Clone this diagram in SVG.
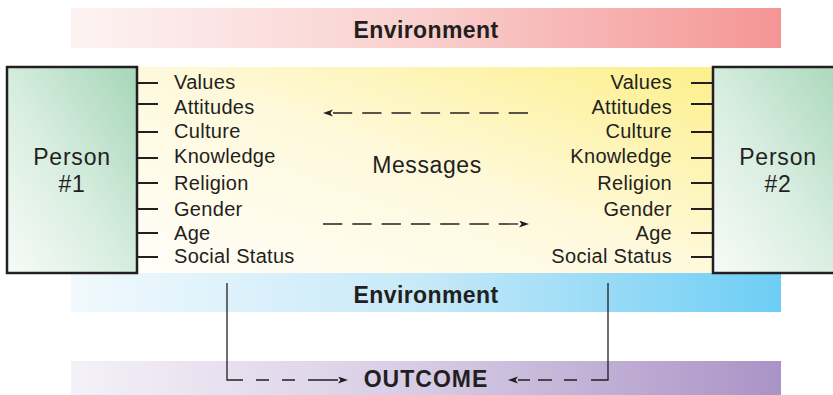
<svg xmlns="http://www.w3.org/2000/svg" width="833" height="395" viewBox="0 0 833 395">
<defs>
<linearGradient id="gRed" x1="0" y1="0" x2="1" y2="0"><stop offset="0" stop-color="#fdf3f3"/><stop offset="0.5" stop-color="#f9cfcd"/><stop offset="1" stop-color="#f49594"/></linearGradient>
<linearGradient id="gBlue" x1="0" y1="0" x2="1" y2="0"><stop offset="0" stop-color="#f1f9fd"/><stop offset="0.5" stop-color="#c6e9f8"/><stop offset="1" stop-color="#6dcdf5"/></linearGradient>
<linearGradient id="gPurple" x1="0" y1="0" x2="1" y2="0"><stop offset="0" stop-color="#f4f1f8"/><stop offset="0.5" stop-color="#d6cbe4"/><stop offset="1" stop-color="#aa93c6"/></linearGradient>
<linearGradient id="gYellow" x1="0" y1="1" x2="1" y2="0"><stop offset="0" stop-color="#fffef9"/><stop offset="0.5" stop-color="#fef9dc"/><stop offset="1" stop-color="#fdef8a"/></linearGradient>
<linearGradient id="gGreen" x1="1" y1="0" x2="0" y2="1"><stop offset="0" stop-color="#a6d6b8"/><stop offset="0.55" stop-color="#d9eee1"/><stop offset="1" stop-color="#f7fbf8"/></linearGradient>
<marker id="ah" markerUnits="userSpaceOnUse" markerWidth="12" markerHeight="8" refX="0" refY="3.5" orient="auto"><path d="M0,0 L10,3.5 L0,7 L2.5,3.5 z" fill="#231f20"/></marker>
<style>
text{font-family:"Liberation Sans",Arial,sans-serif;fill:#231f20}
.env{font-size:23px;font-weight:bold;letter-spacing:0.4px;text-anchor:middle}
.lbl{font-size:20px;letter-spacing:0.3px}
.lr{text-anchor:end}
.per{font-size:23px;letter-spacing:0.8px;text-anchor:middle}
.box{stroke:#231f20;stroke-width:2.5;fill:url(#gGreen)}
.tick{stroke:#231f20;stroke-width:2;fill:none}
.ln{stroke:#231f20;stroke-width:1.3;fill:none}
</style>
</defs>
<g id="bands">
<rect x="71" y="8" width="710" height="40" fill="url(#gRed)"/>
<rect x="137" y="67" width="576" height="206" fill="url(#gYellow)"/>
<rect x="71" y="273" width="710" height="39" fill="url(#gBlue)"/>
<rect x="71" y="361" width="710" height="34" fill="url(#gPurple)"/>
</g>
<g id="env-top"><text class="env" x="426" y="38">Environment</text></g>
<g id="env-bottom"><text class="env" x="426" y="303">Environment</text></g>
<g id="messages"><text x="427" y="173" style="font-size:23px;letter-spacing:0.6px;text-anchor:middle">Messages</text></g>
<g id="outcome"><text class="env" x="426" y="387" style="letter-spacing:1px">OUTCOME</text></g>
<g id="person1">
<rect class="box" x="7" y="67" width="130" height="206"/>
<text class="per" x="72" y="165">Person</text>
<text class="per" x="72" y="192">#1</text>
<path class="tick" d="M137,83 H158 M137,104 H158 M137,132 H158 M137,158 H158 M137,183 H158 M137,209 H158 M137,233 H158 M137,257 H158"/>
<text class="lbl" x="174" y="89">Values</text>
<text class="lbl" x="174" y="114">Attitudes</text>
<text class="lbl" x="174" y="138">Culture</text>
<text class="lbl" x="174" y="163">Knowledge</text>
<text class="lbl" x="174" y="190">Religion</text>
<text class="lbl" x="174" y="216">Gender</text>
<text class="lbl" x="174" y="240">Age</text>
<text class="lbl" x="174" y="263">Social Status</text>
</g>
<g id="person2">
<rect class="box" x="713" y="67" width="140" height="206"/>
<text class="per" x="778" y="165">Person</text>
<text class="per" x="778" y="192">#2</text>
<path class="tick" d="M691,83 H713 M691,104 H713 M691,132 H713 M691,158 H713 M691,183 H713 M691,209 H713 M691,233 H713 M691,257 H713"/>
<text class="lbl lr" x="672" y="89">Values</text>
<text class="lbl lr" x="672" y="114">Attitudes</text>
<text class="lbl lr" x="672" y="138">Culture</text>
<text class="lbl lr" x="672" y="163">Knowledge</text>
<text class="lbl lr" x="672" y="190">Religion</text>
<text class="lbl lr" x="672" y="216">Gender</text>
<text class="lbl lr" x="672" y="240">Age</text>
<text class="lbl lr" x="672" y="263">Social Status</text>
</g>
<g id="connectors">
<path class="ln" d="M528,113 H333" stroke-dasharray="19.3 10" marker-end="url(#ah)"/>
<path class="ln" d="M323,224 H519" stroke-dasharray="19.3 10" marker-end="url(#ah)"/>
<path class="ln" d="M227,283 V380 H243"/>
<path class="ln" d="M256,380 H269 M282,380 H295 M308,380 H338" marker-end="url(#ah)"/>
<path class="ln" d="M608,283 V380 H591"/>
<path class="ln" d="M577,380 H564 M552,380 H538 M530,380 H518" marker-end="url(#ah)"/>
</g>
</svg>
